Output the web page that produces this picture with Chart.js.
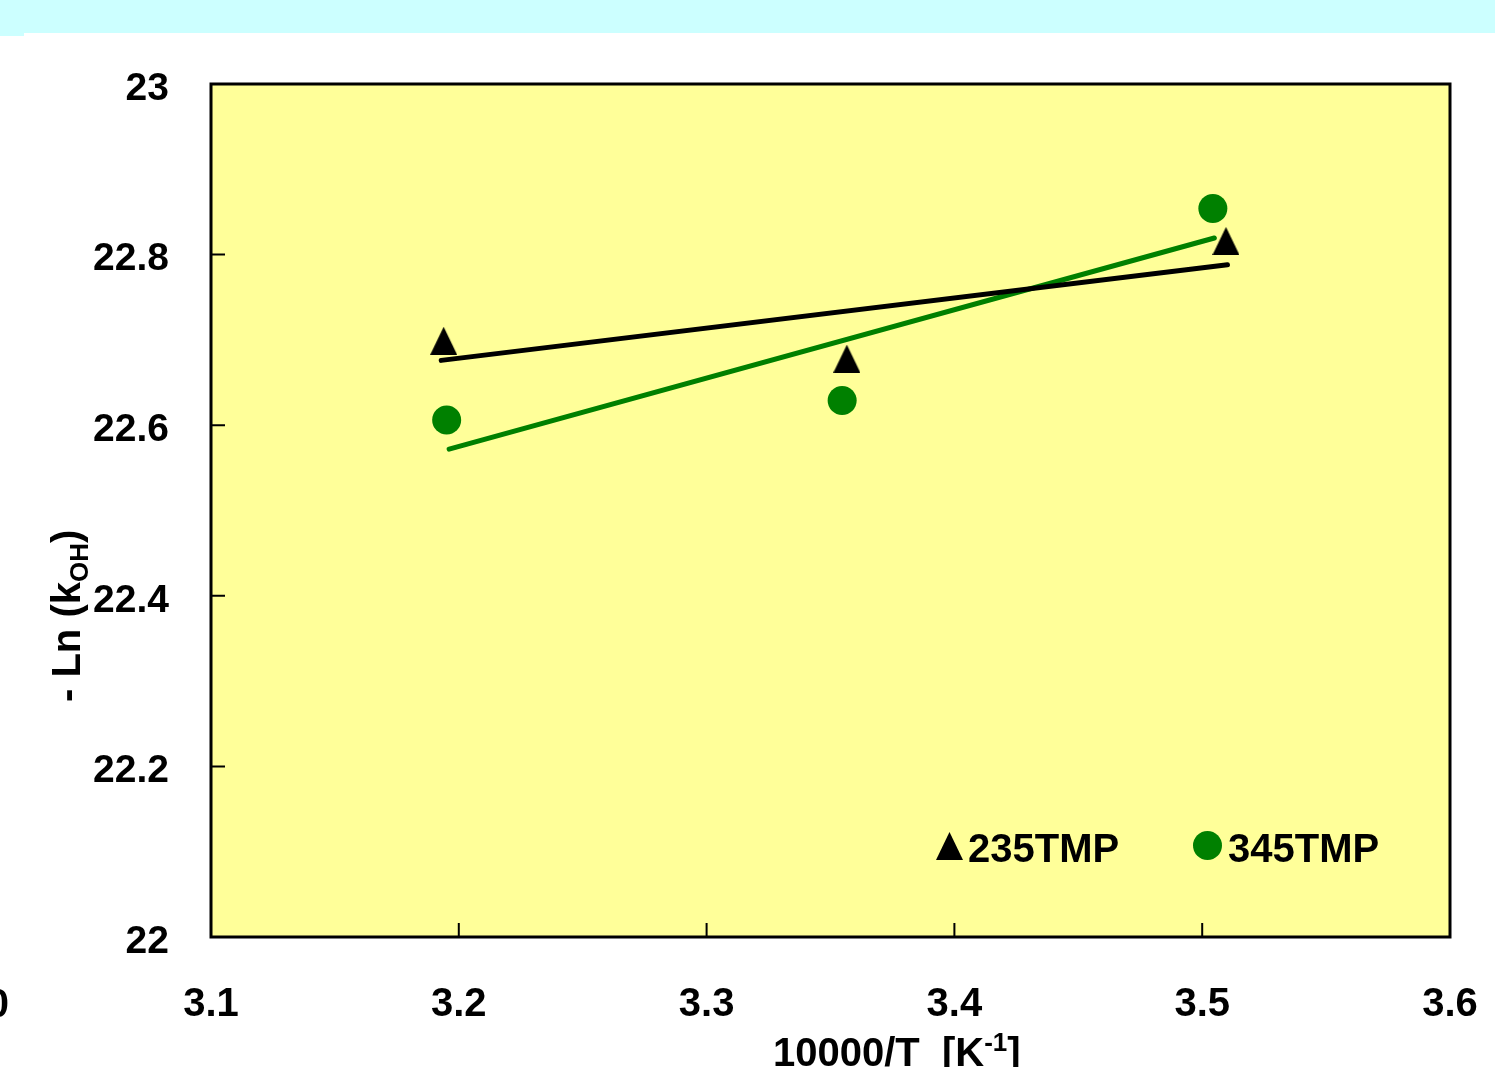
<!DOCTYPE html>
<html><head><meta charset="utf-8">
<script src="https://cdn.jsdelivr.net/npm/chart.js@4.4.1/dist/chart.umd.min.js"></script>
<style>html,body{margin:0;padding:0;background:#fff;overflow:hidden}
#wrap{position:relative;width:1495px;height:1067px}</style></head>
<body><div id="wrap"><canvas id="c" width="1495" height="1067"></canvas></div>
<script>
const seriesNames = ['235TMP', '345TMP'];
const x235 = [3.1939, 3.3566, 3.5096];
const y235 = [22.699, 22.678, 22.816];
const x345 = [3.1951, 3.3547, 3.5043];
const y345 = [22.606, 22.629, 22.854];
const trendX235 = [3.1929, 3.5102];
const trendY235 = [22.676, 22.788];
const trendX345 = [3.1961, 3.5049];
const trendY345 = [22.572, 22.8195];
const xTickValues = [3.1, 3.2, 3.3, 3.4, 3.5, 3.6];
const xTickLabels = ['3.1', '3.2', '3.3', '3.4', '3.5', '3.6'];
const yTickValues = [22, 22.2, 22.4, 22.6, 22.8, 23];
const yTickLabels = ['22', '22.2', '22.4', '22.6', '22.8', '23'];

const FONT = '"Liberation Sans", Arial, Helvetica, sans-serif';
const GREEN = '#008000';

// triangle marker image
const tri = document.createElement('canvas');
tri.width = 27; tri.height = 28;
(function(){
  const t = tri.getContext('2d');
  t.fillStyle = '#000';
  t.beginPath(); t.moveTo(13.5, 0); t.lineTo(27, 28); t.lineTo(0, 28); t.closePath(); t.fill();
})();

const deco = {
  id: 'deco',
  beforeDraw(chart) {
    const {ctx, chartArea: a} = chart;
    ctx.save();
    ctx.fillStyle = '#fff'; ctx.fillRect(0, 0, chart.width, chart.height);
    ctx.fillStyle = '#CCFFFF'; ctx.fillRect(0, 0, chart.width, 33); ctx.fillRect(0, 0, 24, 36);
    ctx.fillStyle = '#FFFF99'; ctx.fillRect(a.left, a.top, a.right - a.left, a.bottom - a.top);
    ctx.restore();
  },
  afterDraw(chart) {
    const {ctx, chartArea: a} = chart;
    const xs = chart.scales.x, ys = chart.scales.y;
    ctx.save();
    // tick marks (inside)
    ctx.strokeStyle = '#000'; ctx.lineWidth = 2;
    ctx.beginPath();
    xTickValues.forEach(v => { const p = xs.getPixelForValue(v); ctx.moveTo(p, a.bottom); ctx.lineTo(p, a.bottom - 14); });
    yTickValues.forEach(v => { const p = ys.getPixelForValue(v); ctx.moveTo(a.left, p); ctx.lineTo(a.left + 14, p); });
    ctx.stroke();
    // frame
    ctx.lineWidth = 3;
    ctx.strokeRect(a.left, a.top, a.right - a.left, a.bottom - a.top);
    // legend
    ctx.fillStyle = '#000';
    ctx.font = 'bold 40px ' + FONT;
    ctx.textBaseline = 'alphabetic'; ctx.textAlign = 'left';
    ctx.drawImage(tri, 949.5 - 13.5, 846 - 14);
    ctx.fillText(seriesNames[0], 968, 862);
    ctx.fillStyle = GREEN;
    ctx.beginPath(); ctx.arc(1207.5, 845.5, 14.5, 0, Math.PI * 2); ctx.fill();
    ctx.fillStyle = '#000';
    ctx.fillText(seriesNames[1], 1228, 862);
    // stray clipped label at left
    ctx.textAlign = 'right';
    ctx.fillText('0', 9, 1017);
    // x axis title
    ctx.textAlign = 'left';
    let x = 773;
    const base = 1066;
    ctx.font = 'bold 40px ' + FONT;
    const t1 = '10000/T  [K';
    ctx.fillText(t1, x, base); x += ctx.measureText(t1).width;
    ctx.font = 'bold 26px ' + FONT;
    ctx.fillText('-1', x, base - 15); x += ctx.measureText('-1').width;
    ctx.font = 'bold 40px ' + FONT;
    ctx.fillText(']', x, base);
    // y axis title
    ctx.translate(80, 702);
    ctx.rotate(-Math.PI / 2);
    let yx = 0;
    ctx.font = 'bold 40px ' + FONT;
    const s1 = '- Ln (k';
    ctx.fillText(s1, yx, 0); yx += ctx.measureText(s1).width;
    ctx.font = 'bold 26px ' + FONT;
    ctx.fillText('OH', yx, 8); yx += ctx.measureText('OH').width;
    ctx.font = 'bold 40px ' + FONT;
    ctx.fillText(')', yx, 0);
    ctx.restore();
  }
};

new Chart(document.getElementById('c'), {
  type: 'scatter',
  data: {
    datasets: [
      { label: seriesNames[0], data: x235.map((x, i) => ({x, y: y235[i]})), pointStyle: tri,
        pointRadius: 14, backgroundColor: '#000', borderWidth: 0, order: 1 },
      { label: seriesNames[1], data: x345.map((x, i) => ({x, y: y345[i]})), pointStyle: 'circle',
        pointRadius: 14.5, backgroundColor: GREEN, borderColor: GREEN, borderWidth: 0, order: 1 },
      { label: 'trend ' + seriesNames[0], type: 'line', data: trendX235.map((x, i) => ({x, y: trendY235[i]})),
        borderColor: '#000', borderWidth: 5, pointRadius: 0, borderCapStyle: 'round', fill: false, order: 2 },
      { label: 'trend ' + seriesNames[1], type: 'line', data: trendX345.map((x, i) => ({x, y: trendY345[i]})),
        borderColor: GREEN, borderWidth: 5, pointRadius: 0, borderCapStyle: 'round', fill: false, order: 2 }
    ]
  },
  options: {
    responsive: false, animation: false, devicePixelRatio: 1,
    events: [],
    layout: { padding: { top: 84, right: 45, left: 0, bottom: 0 } },
    plugins: { legend: { display: false }, tooltip: { enabled: false } },
    scales: {
      x: {
        type: 'linear', min: 3.1, max: 3.6,
        afterBuildTicks: s => { s.ticks = xTickValues.map(v => ({value: v})); },
        afterFit: s => { s.height = 130; s.paddingLeft = 0; s.paddingRight = 0; },
        grid: { display: false, drawTicks: false }, border: { display: false },
        ticks: { padding: 44, color: '#000', autoSkip: false, maxRotation: 0,
          font: { family: FONT, size: 40, weight: 'bold' },
          callback: (v, i) => xTickLabels[i] }
      },
      y: {
        type: 'linear', min: 22, max: 23,
        afterBuildTicks: s => { s.ticks = yTickValues.map(v => ({value: v})); },
        afterFit: s => { s.width = 211; s.paddingTop = 0; s.paddingBottom = 0; },
        grid: { display: false, drawTicks: false }, border: { display: false },
        ticks: { padding: 42, color: '#000', autoSkip: false, labelOffset: 5,
          font: { family: FONT, size: 39, weight: 'bold' },
          callback: (v, i) => yTickLabels[i] }
      }
    }
  },
  plugins: [deco]
});
</script></body></html>
